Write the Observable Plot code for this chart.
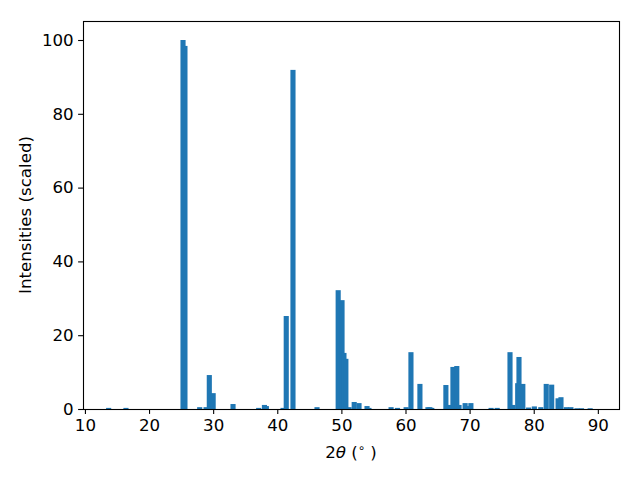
<!DOCTYPE html>
<html>
<head>
<meta charset="utf-8">
<script src="https://cdn.jsdelivr.net/npm/d3@7"></script>
<script src="https://cdn.jsdelivr.net/npm/@observablehq/plot@0.6"></script>
<style>
  html, body { margin: 0; padding: 0; background: white; }
</style>
</head>
<body>
<div id="chart"></div>
<script>
const twoTheta = [13.7, 16.4, 25.3, 25.6, 27.9, 28.9, 29.4, 30.0, 33.1, 37.1, 38.0, 38.3,
  40.9, 41.4, 42.45, 46.2, 49.5, 50.1, 50.4, 50.7, 51.2, 52.0, 52.75, 54.0, 54.3,
  57.75, 58.75, 60.1, 60.85, 62.25, 63.5, 63.8, 64.1, 66.3, 66.9, 67.4, 68.0, 68.35,
  69.3, 69.6, 70.2, 73.35, 74.3, 76.3, 76.75, 77.5, 77.7, 78.3, 79.2, 80.1, 81.1,
  81.95, 82.8, 83.8, 84.25, 85.1, 85.8, 86.75, 87.45, 88.8];
const intensity = [0.3, 0.3, 100, 98.4, 0.5, 0.5, 9.2, 4.3, 1.35, 0.3, 1.1, 0.8,
  0.3, 25.2, 91.9, 0.5, 32.2, 29.5, 15.2, 13.6, 0.5, 1.9, 1.6, 0.8, 0.3,
  0.5, 0.3, 0.5, 15.4, 6.8, 0.5, 0.5, 0.3, 6.5, 1.1, 11.4, 11.65, 1.1,
  1.6, 0.8, 1.6, 0.3, 0.3, 15.4, 1.1, 7.0, 14.1, 6.8, 0.4, 0.7, 0.5,
  6.8, 6.6, 2.9, 3.2, 0.5, 0.5, 0.2, 0.2, 0.2];
const xTicks = [10, 20, 30, 40, 50, 60, 70, 80, 90];
const yTicks = [0, 20, 40, 60, 80, 100];
const barWidth = 0.8;

const table = twoTheta.map((x, i) => ({x, y: intensity[i]}));

const chart = Plot.plot({
  width: 640,
  height: 480,
  marginLeft: 83,
  marginRight: 21,
  marginTop: 21,
  marginBottom: 71,
  x: {domain: [9.7, 93.3]},
  y: {domain: [0, 105.15]},
  style: {fontFamily: "DejaVu Sans", fontSize: "16.67px", color: "black", background: "white"},
  marks: [
    Plot.rectY(table, {x1: d => d.x - barWidth / 2, x2: d => d.x + barWidth / 2, y1: 0, y2: "y", fill: "#1f77b4"}),
    Plot.frame({stroke: "black", strokeWidth: 1.1}),
    Plot.axisX({ticks: xTicks, tickSize: 4.9, tickPadding: 4.9, label: null, strokeWidth: 1.1, fontSize: 16.67}),
    Plot.axisY({ticks: yTicks, tickSize: 4.9, tickPadding: 4.9, label: null, strokeWidth: 1.1, fontSize: 16.67})
  ]
});
document.getElementById("chart").appendChild(chart);

const svg = d3.select(chart);
const xl = svg.append("text")
  .attr("x", 351).attr("y", 458)
  .attr("text-anchor", "middle")
  .style("font-family", "'DejaVu Sans'")
  .style("font-size", "16.67px")
  .attr("fill", "black");
xl.append("tspan").text("2");
xl.append("tspan").style("font-style", "italic").text("θ");
xl.append("tspan").text(" (");
xl.append("tspan").style("font-size", "11.7px").attr("dy", "-6").text("∘");
xl.append("tspan").attr("dy", "6").text(" )");

svg.append("text")
  .attr("transform", "translate(31,215) rotate(-90)")
  .attr("text-anchor", "middle")
  .style("font-family", "'DejaVu Sans'")
  .style("font-size", "16.67px")
  .attr("fill", "black")
  .text("Intensities (scaled)");
</script>
</body>
</html>
